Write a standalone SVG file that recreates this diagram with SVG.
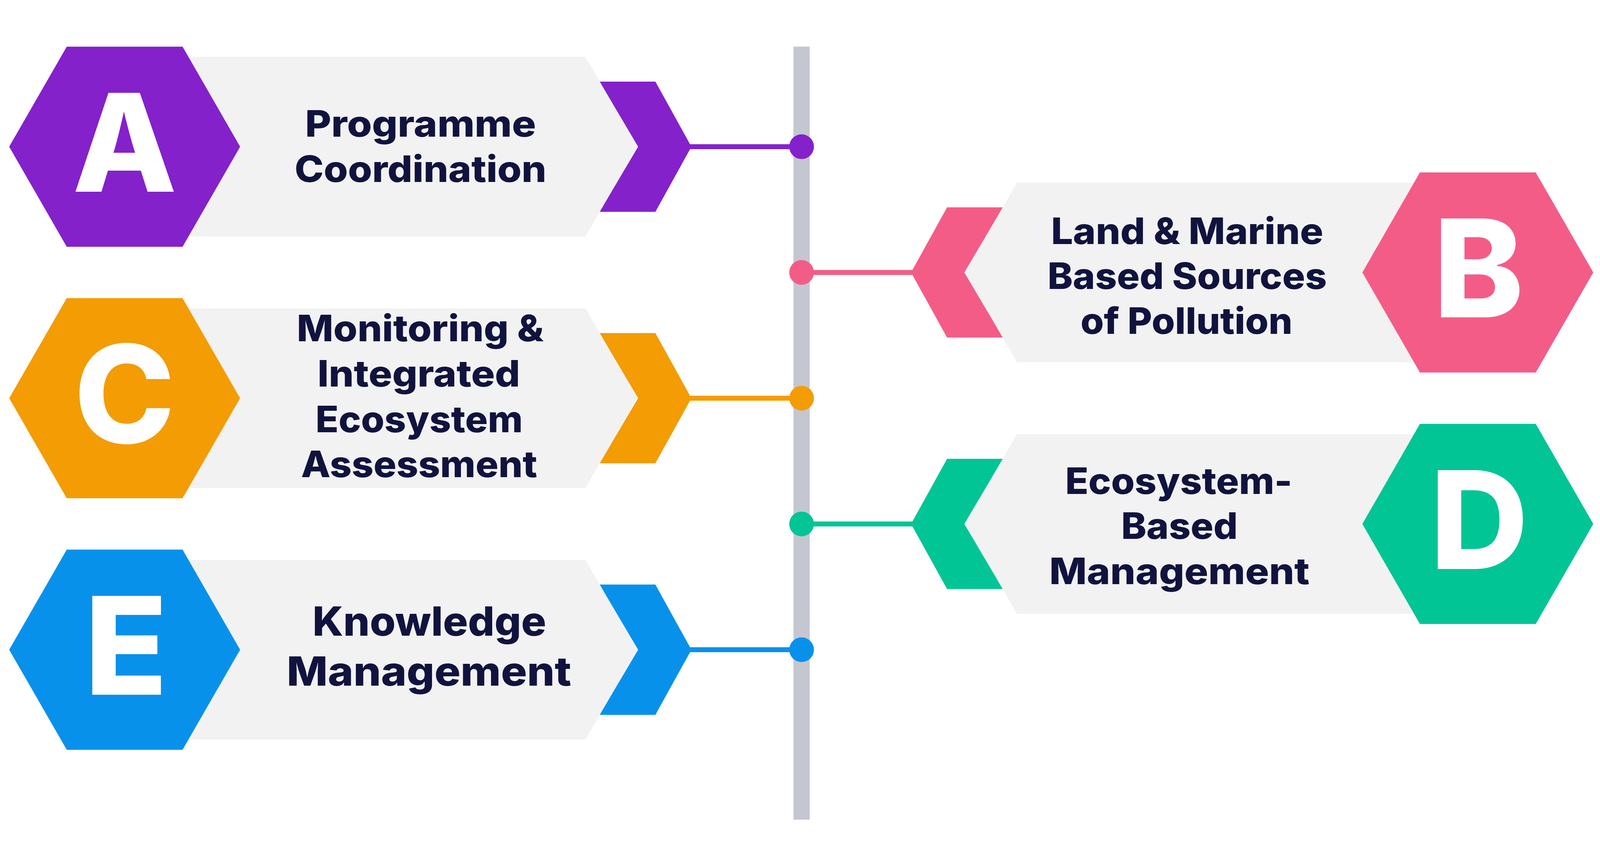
<svg xmlns="http://www.w3.org/2000/svg" width="4531" height="2205" viewBox="0 0 4531 2205">
<style>
svg:root{width:100vw;height:100vh}
.banner{fill:#F2F2F2}
.letter{font-family:Inter,"Liberation Sans",sans-serif;font-weight:800;font-size:385px;fill:#FFFFFF;text-anchor:middle}
.lbl{font-family:Inter,"Liberation Sans",sans-serif;font-weight:800;font-size:103px;fill:#11133F;text-anchor:middle}
.lblE{font-size:114px}
.spine{fill:#C4C7D0}
</style>
<rect width="4531" height="2205" fill="#FFFFFF"/>
<g id="connectors">
<rect class="spine" x="2247" y="15" width="46" height="2190"/>
<rect x="1950" y="291.5" width="320" height="14" fill="#8421CB"/>
<circle cx="2270" cy="298.5" r="35" fill="#8421CB"/>
<rect x="2270" y="647.75" width="318" height="14" fill="#F45C88"/>
<circle cx="2270" cy="654.75" r="35" fill="#F45C88"/>
<rect x="1950" y="1004" width="320" height="14" fill="#F39C04"/>
<circle cx="2270" cy="1011" r="35" fill="#F39C04"/>
<rect x="2270" y="1360.25" width="318" height="14" fill="#02C595"/>
<circle cx="2270" cy="1367.25" r="35" fill="#02C595"/>
<rect x="1950" y="1716.5" width="320" height="14" fill="#0891EB"/>
<circle cx="2270" cy="1723.5" r="35" fill="#0891EB"/>
</g>
<g id="node-A">
<g transform="translate(0,298.5)">
<polygon fill="#8421CB" points="1698,-184.5 1856,-184.5 1958,0 1856,184.5 1698,184.5 1807,0"/>
<polygon class="banner" points="450,-254.5 1658,-254.5 1805,0 1658,254.5 450,254.5"/>
<polygon fill="#8421CB" points="26,0 189,-283.5 517,-283.5 680,0 517,283.5 189,283.5"/>
</g>
<text class="letter" x="353" y="426">A</text>
<text class="lbl" x="1191" y="270" textLength="654" lengthAdjust="spacingAndGlyphs">Programme</text>
<text class="lbl" x="1191" y="398" textLength="713" lengthAdjust="spacingAndGlyphs">Coordination</text>
</g>
<g id="node-B">
<g transform="matrix(-1 0 0 1 4538 654.75)">
<polygon fill="#F45C88" points="1698,-184.5 1856,-184.5 1958,0 1856,184.5 1698,184.5 1807,0"/>
<polygon class="banner" points="450,-254.5 1658,-254.5 1805,0 1658,254.5 450,254.5"/>
<polygon fill="#F45C88" points="26,0 189,-283.5 517,-283.5 680,0 517,283.5 189,283.5"/>
</g>
<text class="letter" x="4187" y="782">B</text>
<text class="lbl" x="3362" y="574" textLength="771" lengthAdjust="spacingAndGlyphs">Land &amp; Marine</text>
<text class="lbl" x="3362" y="702" textLength="791" lengthAdjust="spacingAndGlyphs">Based Sources</text>
<text class="lbl" x="3360" y="829" textLength="600" lengthAdjust="spacingAndGlyphs">of Pollution</text>
</g>
<g id="node-C">
<g transform="translate(0,1011)">
<polygon fill="#F39C04" points="1698,-184.5 1856,-184.5 1958,0 1856,184.5 1698,184.5 1807,0"/>
<polygon class="banner" points="450,-254.5 1658,-254.5 1805,0 1658,254.5 450,254.5"/>
<polygon fill="#F39C04" points="26,0 189,-283.5 517,-283.5 680,0 517,283.5 189,283.5"/>
</g>
<text class="letter" x="353" y="1138">C</text>
<text class="lbl" x="1190" y="850" textLength="699" lengthAdjust="spacingAndGlyphs">Monitoring &amp;</text>
<text class="lbl" x="1186" y="978" textLength="574" lengthAdjust="spacingAndGlyphs">Integrated</text>
<text class="lbl" x="1187" y="1107" textLength="587" lengthAdjust="spacingAndGlyphs">Ecosystem</text>
<text class="lbl" x="1187" y="1235" textLength="669" lengthAdjust="spacingAndGlyphs">Assessment</text>
</g>
<g id="node-D">
<g transform="matrix(-1 0 0 1 4538 1367.25)">
<polygon fill="#02C595" points="1698,-184.5 1856,-184.5 1958,0 1856,184.5 1698,184.5 1807,0"/>
<polygon class="banner" points="450,-254.5 1658,-254.5 1805,0 1658,254.5 450,254.5"/>
<polygon fill="#02C595" points="26,0 189,-283.5 517,-283.5 680,0 517,283.5 189,283.5"/>
</g>
<text class="letter" x="4189" y="1495">D</text>
<text class="lbl" x="3338" y="1282" textLength="643" lengthAdjust="spacingAndGlyphs">Ecosystem-</text>
<text class="lbl" x="3340" y="1410" textLength="330" lengthAdjust="spacingAndGlyphs">Based</text>
<text class="lbl" x="3340" y="1538" textLength="737" lengthAdjust="spacingAndGlyphs">Management</text>
</g>
<g id="node-E">
<g transform="translate(0,1723.5)">
<polygon fill="#0891EB" points="1698,-184.5 1856,-184.5 1958,0 1856,184.5 1698,184.5 1807,0"/>
<polygon class="banner" points="450,-254.5 1658,-254.5 1805,0 1658,254.5 450,254.5"/>
<polygon fill="#0891EB" points="26,0 189,-283.5 517,-283.5 680,0 517,283.5 189,283.5"/>
</g>
<text class="letter" x="357" y="1851">E</text>
<text class="lbl lblE" x="1216" y="1684" textLength="662" lengthAdjust="spacingAndGlyphs">Knowledge</text>
<text class="lbl lblE" x="1215" y="1825" textLength="806" lengthAdjust="spacingAndGlyphs">Management</text>
</g>
</svg>
